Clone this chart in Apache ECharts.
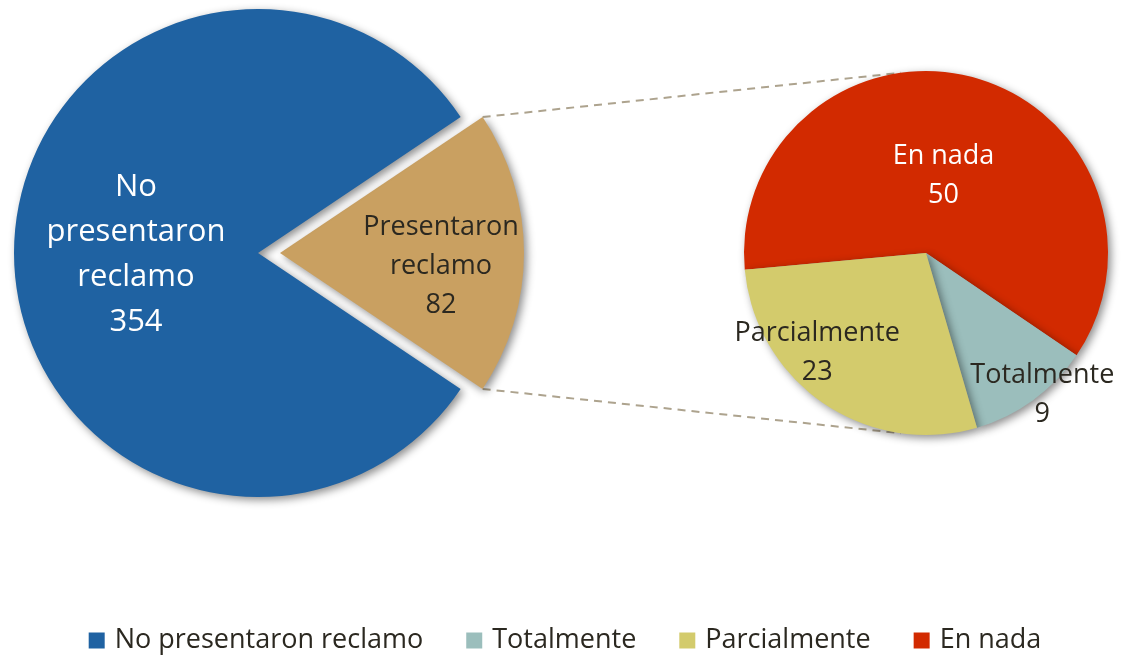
<!DOCTYPE html>
<html>
<head>
<meta charset="utf-8">
<script src="https://cdn.jsdelivr.net/npm/echarts@6/dist/echarts.min.js"></script>
<style>
  html, body { margin: 0; padding: 0; background: #fff; }
  #chart { width: 1130px; height: 659px; }
</style>
</head>
<body>
<div id="chart"></div>
<script>
// datos del gráfico principal
const mainNames = ['Presentaron reclamo', 'No presentaron reclamo'];
const mainValues = [82, 354];
// desglose de los que presentaron reclamo
const subNames = ['En nada', 'Totalmente', 'Parcialmente'];
const subValues = [50, 9, 23];
const legendNames = ['No presentaron reclamo', 'Totalmente', 'Parcialmente', 'En nada'];

const colors = {
    'No presentaron reclamo': '#1F62A2',
    'Presentaron reclamo': '#C9A061',
    'En nada': '#D22A00',
    'Totalmente': '#9BBEBC',
    'Parcialmente': '#D3CB6C'
};

const FONT = 'Open Sans';
const TEXT = '#2B2820';

// geometria
const leftC = [258, 253], leftR = 244, explode = 22;
const rightC = [926, 253], rightR = 182;

const mainTotal = mainValues.reduce((a, b) => a + b, 0);
const halfAngle = mainValues[0] / mainTotal * 180; // mitad del sector destacado

// posicion de etiquetas (ajuste respecto a la posicion por defecto)
const leftLabelShift = [[36, 13], [3, 2]];
const rightLabelShift = [[-6, 14], [61, 66], [-56, 22]];

const shadow = {
    shadowBlur: 8,
    shadowOffsetX: 3,
    shadowOffsetY: 3,
    shadowColor: 'rgba(0,0,0,0.45)'
};

// lineas de conexion
function connectors() {
    const a = halfAngle * Math.PI / 180;
    const ox = leftC[0] + explode;
    const x1 = ox + leftR * Math.cos(a);
    const yTop = leftC[1] - leftR * Math.sin(a);
    const yBot = leftC[1] + leftR * Math.sin(a);
    const b = 98 * Math.PI / 180;
    const x2 = rightC[0] + rightR * Math.cos(b);
    const y2t = rightC[1] - rightR * Math.sin(b);
    const y2b = rightC[1] + rightR * Math.sin(b);
    const style = {stroke: '#ADA38E', lineWidth: 2, lineDash: [8, 6]};
    return [
        {type: 'line', z: -1, shape: {x1: x1, y1: yTop, x2: x2, y2: y2t}, style: style},
        {type: 'line', z: -1, shape: {x1: x1, y1: yBot, x2: x2, y2: y2b}, style: style}
    ];
}

const chart = echarts.init(document.getElementById('chart'));

const option = {
    animation: false,
    textStyle: {fontFamily: FONT},
    legend: {
        data: legendNames,
        bottom: 0,
        left: 'center',
        itemWidth: 16,
        itemHeight: 16,
        itemGap: 43,
        icon: 'rect',
        selectedMode: false,
        textStyle: {fontFamily: FONT, fontSize: 27, color: TEXT, padding: [0, 0, 0, 5]}
    },
    graphic: connectors(),
    series: [
        {
            type: 'pie',
            center: leftC,
            radius: leftR,
            startAngle: halfAngle,
            clockwise: true,
            selectedMode: 'single',
            selectedOffset: explode,
            label: {
                show: true,
                position: 'inner',
                fontFamily: FONT,
                formatter: function (p) {
                    return p.name.replace(/ /g, '\n') + '\n' + p.value;
                }
            },
            labelLayout: function (p) {
                const s = leftLabelShift[p.dataIndex];
                return {dx: s[0], dy: s[1]};
            },
            emphasis: {disabled: true},
            data: mainNames.map((n, i) => ({
                name: n,
                value: mainValues[i],
                selected: i === 0,
                itemStyle: Object.assign({color: colors[n]}, shadow),
                label: i === 0
                    ? {color: TEXT, fontSize: 27, lineHeight: 39,
                        formatter: function (p) { return 'Presentaron\nreclamo\n' + p.value; }}
                    : {color: '#fff', fontSize: 31, lineHeight: 45}
            }))
        },
        {
            type: 'pie',
            center: rightC,
            radius: rightR,
            startAngle: 185.3,
            clockwise: true,
            label: {
                show: true,
                position: 'inner',
                fontFamily: FONT,
                fontSize: 27,
                lineHeight: 39,
                formatter: '{b}\n{c}'
            },
            labelLayout: function (p) {
                const s = rightLabelShift[p.dataIndex];
                return {dx: s[0], dy: s[1]};
            },
            emphasis: {disabled: true},
            data: subNames.map((n, i) => ({
                name: n,
                value: subValues[i],
                itemStyle: Object.assign({color: colors[n]}, shadow),
                label: {color: n === 'En nada' ? '#fff' : TEXT}
            }))
        }
    ]
};

chart.setOption(option);
</script>
</body>
</html>
